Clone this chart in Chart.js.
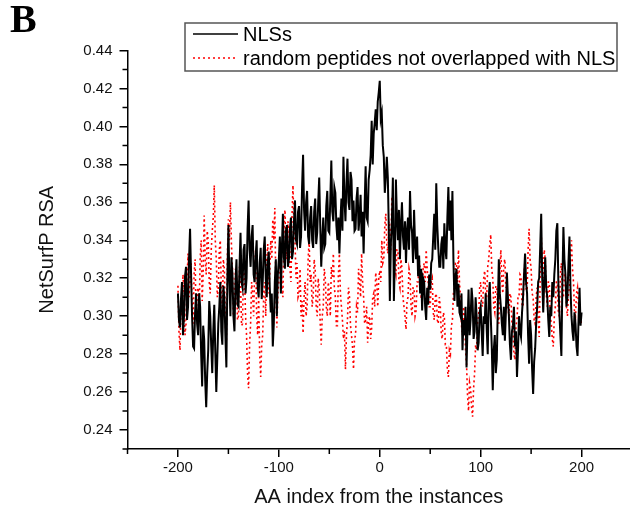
<!DOCTYPE html>
<html>
<head>
<meta charset="utf-8">
<script src="https://cdn.jsdelivr.net/npm/chart.js@4.4.1/dist/chart.umd.min.js"></script>
<style>
  html, body { margin: 0; padding: 0; background: #fff; }
  #chart { display: block; }
</style>
</head>
<body>
<canvas id="chart" width="630" height="509"></canvas>
<script>
// RSA values, one per residue from -200 to 200 (20 per row)
const nlsRsa = [
  0.312, 0.298, 0.294, 0.309, 0.318, 0.290, 0.300, 0.321, 0.326, 0.298, 0.305, 0.330, 0.346, 0.322, 0.300, 0.284, 0.283, 0.302, 0.312, 0.296,
  0.290, 0.312, 0.305, 0.280, 0.263, 0.295, 0.288, 0.266, 0.252, 0.270, 0.282, 0.308, 0.300, 0.284, 0.270, 0.292, 0.306, 0.281, 0.260, 0.278,
  0.296, 0.305, 0.318, 0.292, 0.285, 0.316, 0.310, 0.290, 0.273, 0.320, 0.348, 0.318, 0.300, 0.331, 0.322, 0.300, 0.292, 0.318, 0.330, 0.306,
  0.305, 0.326, 0.344, 0.318, 0.315, 0.335, 0.338, 0.312, 0.320, 0.346, 0.361, 0.335, 0.326, 0.342, 0.348, 0.322, 0.318, 0.332, 0.340, 0.315,
  0.310, 0.328, 0.336, 0.309, 0.318, 0.335, 0.342, 0.320, 0.310, 0.328, 0.334, 0.315, 0.302, 0.312, 0.284, 0.296, 0.318, 0.330, 0.300, 0.322,
  0.330, 0.342, 0.312, 0.336, 0.354, 0.331, 0.325, 0.345, 0.348, 0.326, 0.330, 0.346, 0.352, 0.330, 0.334, 0.350, 0.361, 0.340, 0.338, 0.355,
  0.358, 0.336, 0.342, 0.368, 0.385, 0.356, 0.345, 0.360, 0.366, 0.342, 0.338, 0.352, 0.358, 0.340, 0.336, 0.355, 0.362, 0.338, 0.344, 0.360,
  0.373, 0.348, 0.326, 0.340, 0.352, 0.336, 0.338, 0.358, 0.366, 0.345, 0.344, 0.362, 0.382, 0.355, 0.350, 0.368, 0.365, 0.348, 0.340, 0.352,
  0.333, 0.350, 0.362, 0.345, 0.384, 0.362, 0.350, 0.370, 0.383, 0.360, 0.356, 0.376, 0.372, 0.350, 0.361, 0.345, 0.346, 0.362, 0.368, 0.345,
  0.352, 0.364, 0.342, 0.355, 0.333, 0.358, 0.379, 0.352, 0.350, 0.372, 0.377, 0.385, 0.403, 0.380, 0.396, 0.402, 0.409, 0.398, 0.413, 0.418,
  0.424, 0.404, 0.407, 0.390, 0.384, 0.365, 0.373, 0.384, 0.373, 0.345, 0.308, 0.338, 0.350, 0.373, 0.308, 0.330, 0.372, 0.352, 0.340, 0.356,
  0.330, 0.348, 0.360, 0.342, 0.335, 0.350, 0.328, 0.345, 0.352, 0.335, 0.366, 0.348, 0.344, 0.328, 0.356, 0.338, 0.330, 0.342, 0.321, 0.332,
  0.312, 0.325, 0.303, 0.320, 0.318, 0.305, 0.298, 0.315, 0.306, 0.322, 0.314, 0.328, 0.330, 0.342, 0.354, 0.335, 0.370, 0.348, 0.336, 0.326,
  0.326, 0.338, 0.342, 0.325, 0.349, 0.336, 0.330, 0.352, 0.368, 0.345, 0.361, 0.340, 0.366, 0.330, 0.308, 0.320, 0.325, 0.305, 0.317, 0.302,
  0.300, 0.312, 0.282, 0.298, 0.290, 0.305, 0.273, 0.295, 0.314, 0.290, 0.298, 0.315, 0.308, 0.288, 0.292, 0.310, 0.300, 0.282, 0.286, 0.302,
  0.305, 0.292, 0.279, 0.300, 0.296, 0.312, 0.293, 0.280, 0.310, 0.318, 0.300, 0.284, 0.261, 0.282, 0.290, 0.270, 0.277, 0.305, 0.330, 0.312,
  0.305, 0.296, 0.290, 0.305, 0.287, 0.302, 0.323, 0.310, 0.300, 0.285, 0.277, 0.292, 0.295, 0.305, 0.284, 0.292, 0.268, 0.282, 0.300, 0.292,
  0.289, 0.302, 0.310, 0.322, 0.333, 0.318, 0.312, 0.290, 0.275, 0.298, 0.290, 0.272, 0.259, 0.276, 0.283, 0.296, 0.305, 0.318, 0.320, 0.336,
  0.354, 0.320, 0.302, 0.318, 0.331, 0.315, 0.310, 0.298, 0.289, 0.305, 0.300, 0.318, 0.310, 0.322, 0.330, 0.345, 0.349, 0.318, 0.302, 0.290,
  0.279, 0.318, 0.347, 0.330, 0.322, 0.305, 0.310, 0.328, 0.342, 0.315, 0.300, 0.292, 0.287, 0.302, 0.296, 0.284, 0.279, 0.298, 0.315, 0.295,
  0.302
];

const randomRsa = [
  0.316, 0.292, 0.282, 0.305, 0.300, 0.322, 0.312, 0.290, 0.296, 0.320, 0.333, 0.310, 0.318, 0.328, 0.305, 0.296, 0.322, 0.330, 0.298, 0.312,
  0.315, 0.302, 0.330, 0.340, 0.308, 0.322, 0.353, 0.330, 0.322, 0.345, 0.340, 0.318, 0.312, 0.335, 0.345, 0.352, 0.369, 0.340, 0.330, 0.310,
  0.315, 0.335, 0.340, 0.312, 0.305, 0.330, 0.325, 0.295, 0.287, 0.332, 0.351, 0.340, 0.360, 0.338, 0.325, 0.300, 0.305, 0.325, 0.320, 0.298,
  0.300, 0.326, 0.318, 0.295, 0.296, 0.330, 0.322, 0.300, 0.290, 0.270, 0.262, 0.285, 0.296, 0.318, 0.312, 0.300, 0.324, 0.335, 0.300, 0.290,
  0.310, 0.280, 0.268, 0.285, 0.290, 0.312, 0.318, 0.300, 0.330, 0.338, 0.312, 0.322, 0.340, 0.330, 0.351, 0.340, 0.357, 0.315, 0.294, 0.312,
  0.318, 0.340, 0.335, 0.315, 0.310, 0.342, 0.356, 0.335, 0.330, 0.350, 0.345, 0.325, 0.318, 0.352, 0.369, 0.345, 0.340, 0.320, 0.328, 0.310,
  0.312, 0.325, 0.300, 0.308, 0.291, 0.310, 0.318, 0.300, 0.305, 0.330, 0.340, 0.318, 0.322, 0.305, 0.310, 0.330, 0.325, 0.305, 0.300, 0.320,
  0.315, 0.296, 0.285, 0.300, 0.305, 0.325, 0.320, 0.305, 0.300, 0.318, 0.312, 0.300, 0.326, 0.320, 0.333, 0.315, 0.310, 0.295, 0.295, 0.322,
  0.333, 0.312, 0.305, 0.298, 0.288, 0.292, 0.272, 0.290, 0.298, 0.315, 0.310, 0.295, 0.290, 0.284, 0.272, 0.288, 0.290, 0.305, 0.302, 0.325,
  0.318, 0.310, 0.333, 0.318, 0.310, 0.296, 0.298, 0.305, 0.286, 0.298, 0.300, 0.288, 0.294, 0.310, 0.312, 0.305, 0.323, 0.318, 0.305, 0.320,
  0.324, 0.318, 0.340, 0.328, 0.330, 0.348, 0.354, 0.338, 0.333, 0.350, 0.345, 0.335, 0.363, 0.350, 0.340, 0.325, 0.322, 0.335, 0.335, 0.318,
  0.315, 0.330, 0.325, 0.310, 0.305, 0.300, 0.293, 0.308, 0.310, 0.325, 0.322, 0.305, 0.300, 0.315, 0.315, 0.300, 0.303, 0.318, 0.318, 0.330,
  0.325, 0.310, 0.310, 0.325, 0.328, 0.318, 0.335, 0.325, 0.318, 0.305, 0.305, 0.318, 0.320, 0.302, 0.298, 0.310, 0.312, 0.298, 0.296, 0.310,
  0.305, 0.290, 0.288, 0.302, 0.300, 0.285, 0.285, 0.272, 0.268, 0.282, 0.280, 0.295, 0.298, 0.312, 0.315, 0.328, 0.328, 0.318, 0.335, 0.318,
  0.310, 0.295, 0.290, 0.305, 0.300, 0.282, 0.275, 0.258, 0.250, 0.265, 0.262, 0.252, 0.247, 0.262, 0.270, 0.285, 0.282, 0.298, 0.300, 0.315,
  0.318, 0.306, 0.305, 0.320, 0.324, 0.312, 0.310, 0.326, 0.330, 0.338, 0.343, 0.325, 0.320, 0.305, 0.302, 0.316, 0.315, 0.300, 0.296, 0.322,
  0.335, 0.318, 0.312, 0.328, 0.330, 0.315, 0.319, 0.305, 0.300, 0.312, 0.310, 0.296, 0.292, 0.280, 0.277, 0.295, 0.298, 0.310, 0.310, 0.322,
  0.321, 0.306, 0.305, 0.322, 0.330, 0.315, 0.312, 0.335, 0.346, 0.330, 0.325, 0.312, 0.310, 0.298, 0.296, 0.310, 0.315, 0.298, 0.289, 0.322,
  0.344, 0.325, 0.320, 0.335, 0.330, 0.312, 0.305, 0.318, 0.318, 0.300, 0.296, 0.288, 0.284, 0.300, 0.305, 0.318, 0.318, 0.302, 0.300, 0.322,
  0.328, 0.312, 0.310, 0.322, 0.322, 0.305, 0.300, 0.312, 0.315, 0.332, 0.340, 0.325, 0.318, 0.302, 0.300, 0.312, 0.315, 0.305, 0.305, 0.298,
  0.296
];

const xTicks = [-200, -100, 0, 100, 200];
const xMinorTicks = [-250, -150, -50, 50, 150];
const yTicks = [0.24, 0.26, 0.28, 0.30, 0.32, 0.34, 0.36, 0.38, 0.40, 0.42, 0.44];
const yMinorTicks = [0.23, 0.25, 0.27, 0.29, 0.31, 0.33, 0.35, 0.37, 0.39, 0.41, 0.43];

// residue position of each sample above
const aaIndex = nlsRsa.map((v, i) => -200 + i);

const sans = '"Liberation Sans", Arial, sans-serif';

// short minor ticks between the labelled ones
const minorTicks = {
    id: 'minorTicks',
    afterDraw(chart) {
        const ctx = chart.ctx;
        const x = chart.scales.x, y = chart.scales.y;
        ctx.save();
        ctx.strokeStyle = '#000';
        ctx.lineWidth = 1.5;
        ctx.beginPath();
        xMinorTicks.forEach(v => {
            const px = x.getPixelForValue(v);
            ctx.moveTo(px, x.top);
            ctx.lineTo(px, x.top + 5);
        });
        yMinorTicks.forEach(v => {
            const py = y.getPixelForValue(v);
            ctx.moveTo(y.right, py);
            ctx.lineTo(y.right - 5, py);
        });
        ctx.stroke();
        ctx.restore();
    }
};

// legend in a framed box overlapping the top of the plot
const boxLegend = {
    id: 'boxLegend',
    afterDraw(chart) {
        const ctx = chart.ctx;
        const left = 185, top = 23, w = 432, h = 48;
        ctx.save();
        ctx.fillStyle = '#fff';
        ctx.fillRect(left, top, w, h);
        ctx.strokeStyle = '#555';
        ctx.lineWidth = 1.5;
        ctx.strokeRect(left, top, w, h);
        ctx.font = '20px ' + sans;
        ctx.textBaseline = 'middle';
        chart.data.datasets.forEach((ds, i) => {
            const cy = top + 11 + i * 24;
            ctx.strokeStyle = ds.borderColor;
            ctx.lineWidth = Math.min(ds.borderWidth, 1.6);
            ctx.setLineDash(ds.borderDash || []);
            ctx.beginPath();
            ctx.moveTo(193, cy);
            ctx.lineTo(238, cy);
            ctx.stroke();
            ctx.setLineDash([]);
            ctx.fillStyle = '#000';
            ctx.fillText(ds.label, 243, cy + 1);
        });
        ctx.restore();
    }
};

new Chart(document.getElementById('chart'), {
    type: 'line',
    data: {
        datasets: [
            {
                label: 'NLSs',
                data: aaIndex.map((x, i) => ({ x: x, y: nlsRsa[i] })),
                borderColor: '#000',
                borderWidth: 2,
                pointRadius: 0,
                fill: false
            },
            {
                label: 'random peptides not overlapped with NLS',
                data: aaIndex.map((x, i) => ({ x: x, y: randomRsa[i] })),
                borderColor: '#ff0000',
                borderWidth: 1.6,
                borderDash: [2, 3],
                pointRadius: 0,
                fill: false
            }
        ]
    },
    options: {
        responsive: false,
        animation: false,
        devicePixelRatio: 1,
        layout: { padding: { left: 10, right: 0, top: 0, bottom: 0 } },
        plugins: {
            legend: { display: false },
            tooltip: { enabled: false },
            title: {
                display: true,
                text: 'B',
                align: 'start',
                color: '#000',
                font: { family: '"Liberation Serif", "Times New Roman", serif', size: 40, weight: 'bold', lineHeight: 1 },
                padding: { top: 2, bottom: 8.5 }
            }
        },
        scales: {
            x: {
                type: 'linear',
                min: -250,
                max: 248,
                afterBuildTicks: scale => { scale.ticks = xTicks.map(v => ({ value: v })); },
                afterFit: scale => { scale.height = 60; },
                border: { display: true, color: '#000', width: 1.5 },
                grid: { drawOnChartArea: false, drawTicks: true, tickLength: 8, color: '#000', lineWidth: 1.5 },
                ticks: { color: '#111', font: { family: sans, size: 15 }, padding: 2, maxRotation: 0 },
                title: {
                    display: true,
                    text: 'AA index from the instances',
                    color: '#111',
                    font: { family: sans, size: 20, lineHeight: 1.2 },
                    padding: { top: 0, bottom: 0 }
                }
            },
            y: {
                type: 'linear',
                min: 0.23,
                max: 0.44,
                afterBuildTicks: scale => { scale.ticks = yTicks.map(v => ({ value: v })); },
                afterFit: scale => { scale.width = 117.5; },
                border: { display: true, color: '#000', width: 1.5 },
                grid: { drawOnChartArea: false, drawTicks: true, tickLength: 8, color: '#000', lineWidth: 1.5 },
                ticks: {
                    color: '#111',
                    font: { family: sans, size: 15 },
                    padding: 7,
                    callback: v => v.toFixed(2)
                },
                title: {
                    display: true,
                    text: 'NetSurfP RSA',
                    color: '#111',
                    font: { family: sans, size: 20, lineHeight: 1.2 },
                    padding: { top: 25, bottom: 0 }
                }
            }
        }
    },
    plugins: [minorTicks, boxLegend]
});
</script>
</body>
</html>
